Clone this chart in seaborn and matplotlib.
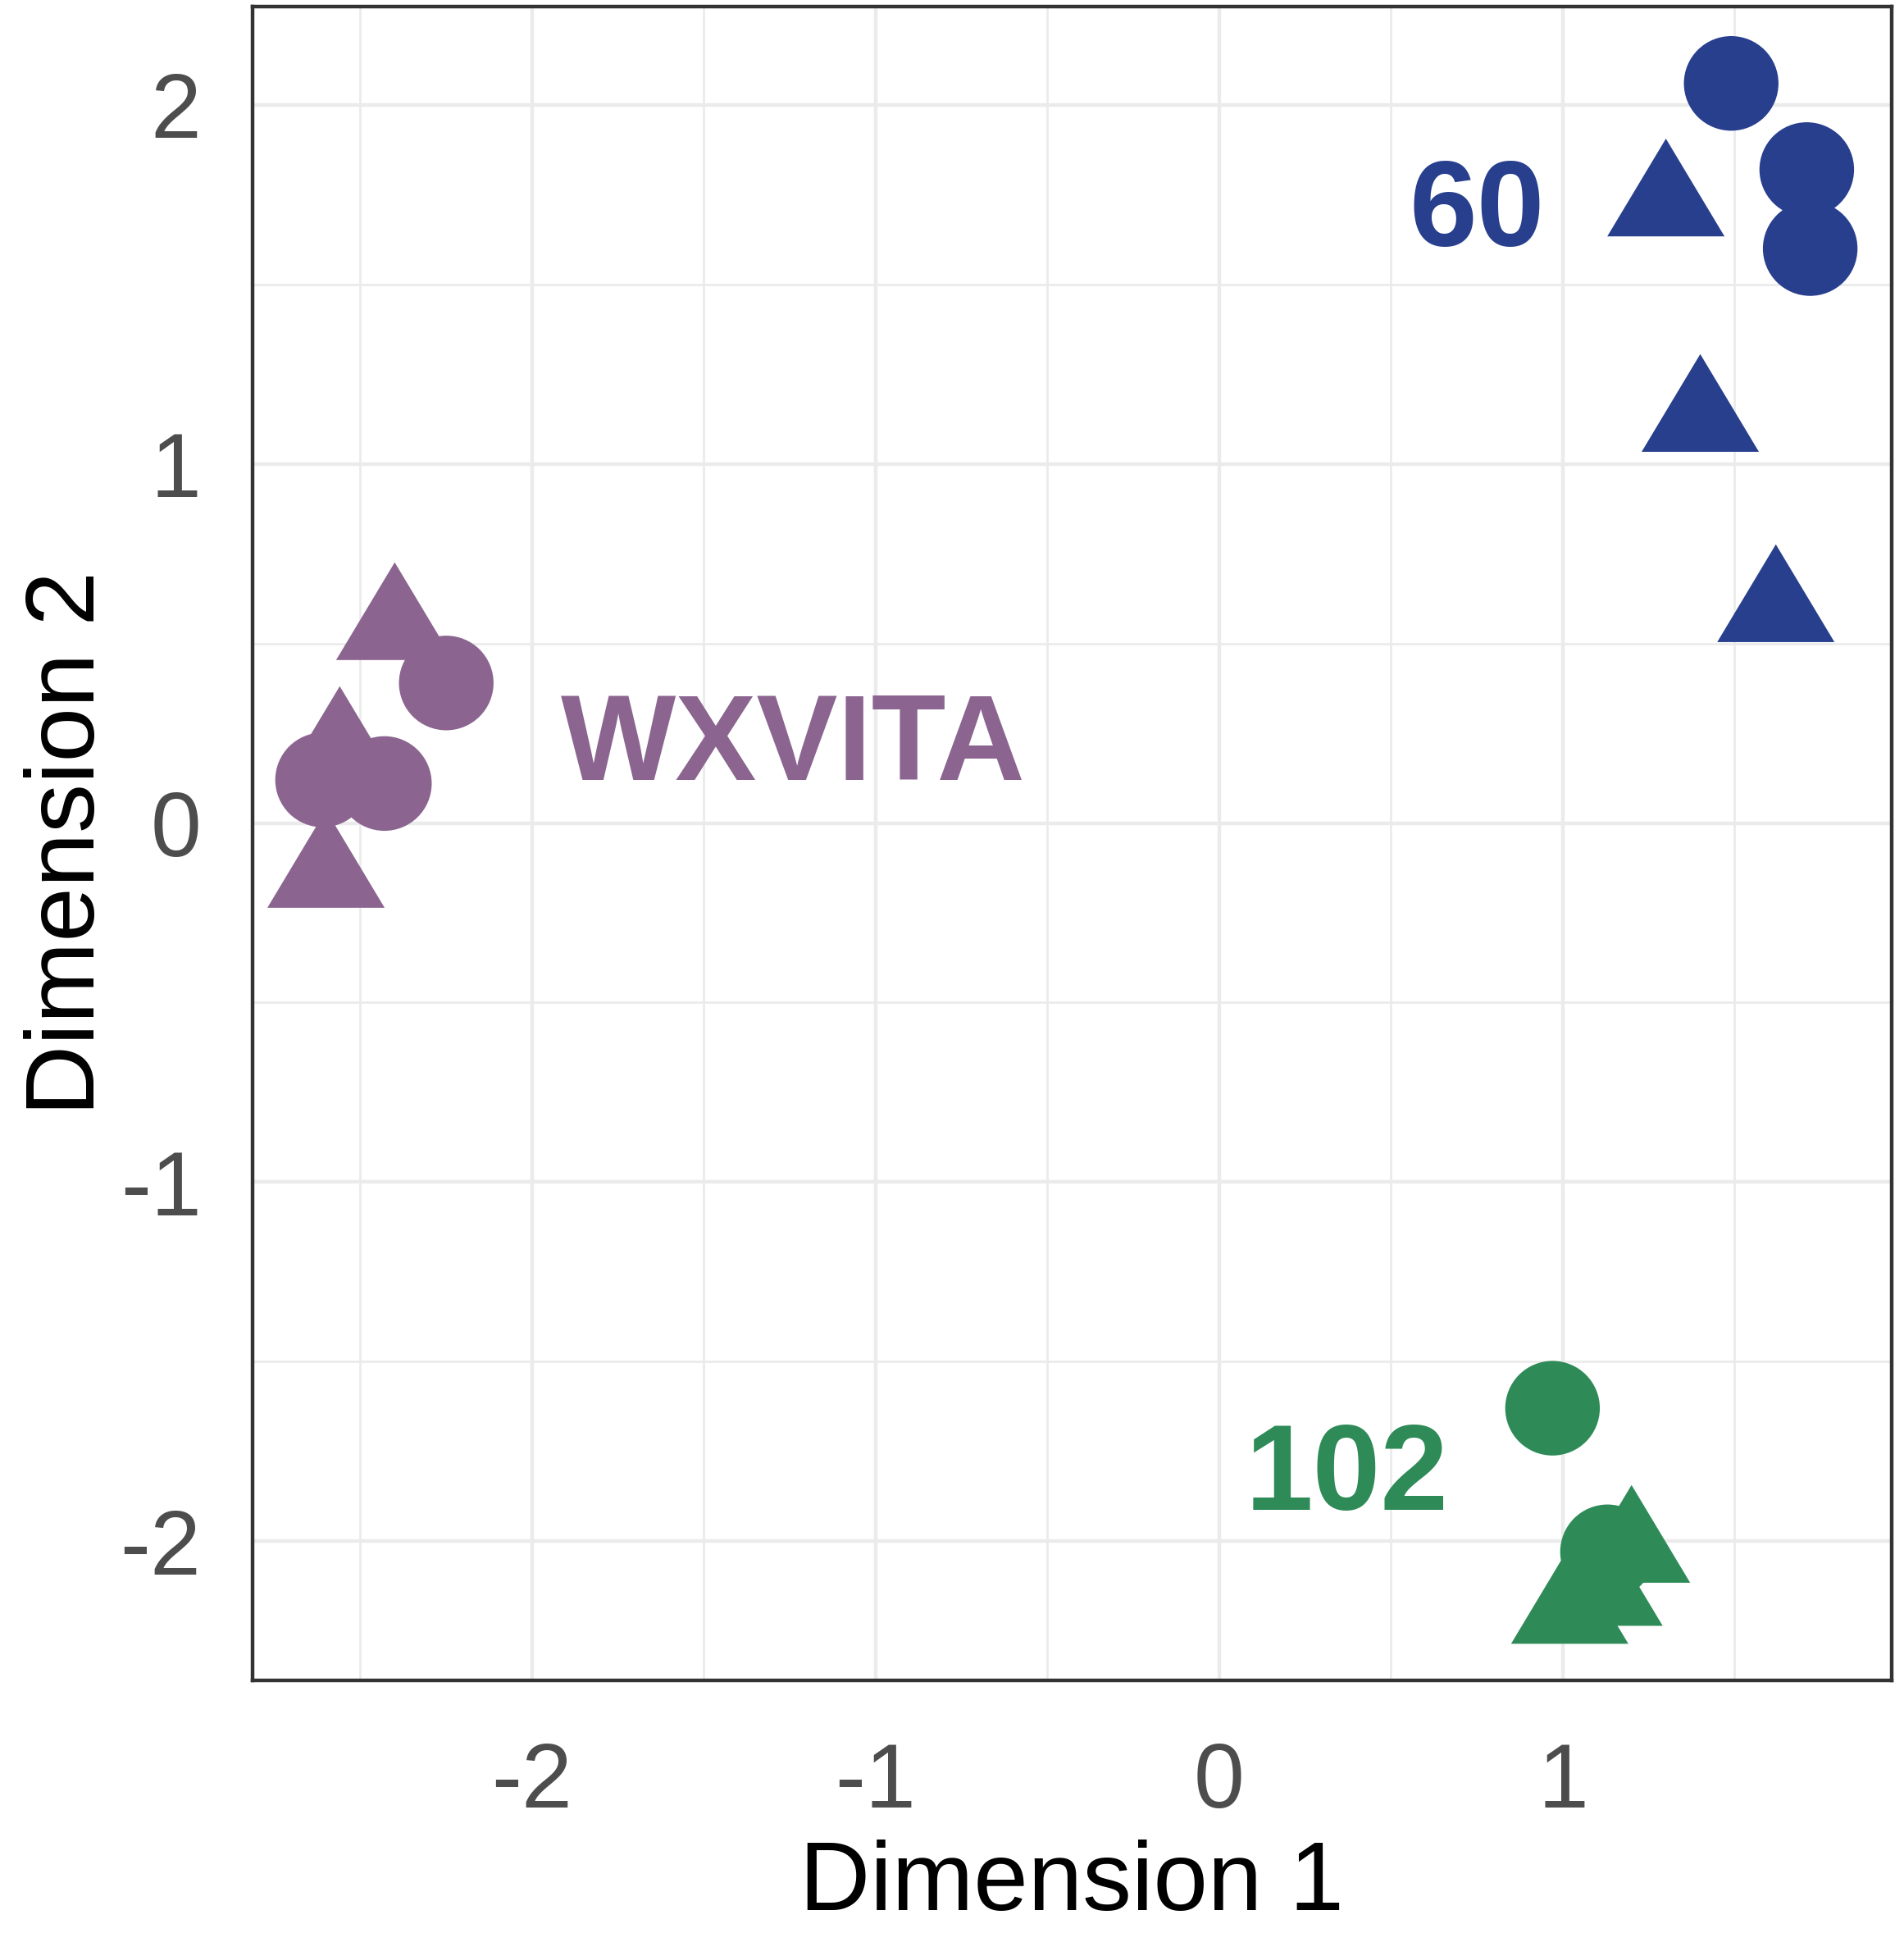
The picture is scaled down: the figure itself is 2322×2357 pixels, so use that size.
import numpy as np
import pandas as pd
import matplotlib
matplotlib.use("Agg")
import matplotlib.pyplot as plt
import seaborn as sns

# Sample coordinates
groups = ["60", "60", "60", "60", "60", "60",
          "WXVITA", "WXVITA", "WXVITA", "WXVITA", "WXVITA", "WXVITA",
          "102", "102", "102", "102", "102"]
shapes = ["circle", "circle", "circle", "triangle", "triangle", "triangle",
          "triangle", "circle", "triangle", "circle", "circle", "triangle",
          "circle", "circle", "triangle", "triangle", "triangle"]
dim1 = [1.49, 1.71, 1.72, 1.30, 1.40, 1.62,
        -2.40, -2.25, -2.56, -2.61, -2.43, -2.60,
        0.97, 1.13, 1.20, 1.12, 1.02]
dim2 = [2.06, 1.82, 1.60, 1.77, 1.17, 0.64,
        0.59, 0.39, 0.245, 0.12, 0.11, -0.10,
        -1.63, -2.03, -1.98, -2.10, -2.15]

group_names = ["60", "WXVITA", "102"]
group_colors = ["#283F8E", "#8B6590", "#2E8B57"]
label_x = [0.75, -1.24, 0.372]
label_y = [1.606, 0.121, -1.913]

x_ticks = [-2, -1, 0, 1]
y_ticks = [-2, -1, 0, 1, 2]
x_minor = [-2.5, -1.5, -0.5, 0.5, 1.5]
y_minor = [-1.5, -0.5, 0.5, 1.5]

df = pd.DataFrame({"Dimension 1": dim1, "Dimension 2": dim2,
                   "group": groups, "shape": shapes})
palette = dict(zip(group_names, group_colors))

sns.set_style("white")
plt.rcParams["font.family"] = ["Liberation Sans", "DejaVu Sans"]
plt.rcParams["axes.unicode_minus"] = False

fig = plt.figure(figsize=(23.22, 23.57), dpi=100)
ax = fig.add_axes([0.1326, 0.1307, 0.9935 - 0.1326, 0.9966 - 0.1307])

tri = [(-1.2, -1.0), (1.2, -1.0), (0.0, 1.0)]

# circles first, triangles drawn over them
sns.scatterplot(data=df[df["shape"] == "circle"], x="Dimension 1", y="Dimension 2",
                hue="group", palette=palette, marker="o", s=6900,
                linewidth=0, legend=False, ax=ax, zorder=3)
sns.scatterplot(data=df[df["shape"] == "triangle"], x="Dimension 1", y="Dimension 2",
                hue="group", palette=palette, marker=tri, s=10600,
                linewidth=0, legend=False, ax=ax, zorder=3)

for name, col, tx, ty in zip(group_names, group_colors, label_x, label_y):
    ax.text(tx, ty, name, color=col, fontsize=107, fontweight="bold",
            ha="center", va="baseline", zorder=4)

ax.set_xlim(-2.814, 1.957)
ax.set_ylim(-2.388, 2.274)
ax.set_xticks(x_ticks)
ax.set_yticks(y_ticks)
ax.set_xticks(x_minor, minor=True)
ax.set_yticks(y_minor, minor=True)
ax.set_xticklabels([str(t) for t in x_ticks])
ax.set_yticklabels([str(t) for t in y_ticks])

ax.set_axisbelow(True)
ax.grid(which="major", color="#EBEBEB", linewidth=3.2)
ax.grid(which="minor", color="#EBEBEB", linewidth=2.0)

ax.tick_params(which="major", length=25, width=3, color="#333333",
               labelsize=80, labelcolor="#4D4D4D")
ax.tick_params(axis="x", which="major", pad=28)
ax.tick_params(axis="y", which="major", pad=20)
ax.tick_params(which="minor", length=0)

for side in ax.spines.values():
    side.set_visible(True)
    side.set_color("#333333")
    side.set_linewidth(3.2)

ax.set_xlabel("Dimension 1", fontsize=86, color="black", labelpad=12)
ax.set_ylabel("Dimension 2", fontsize=86, color="black", labelpad=5)

fig.savefig("out.png", dpi=100)
